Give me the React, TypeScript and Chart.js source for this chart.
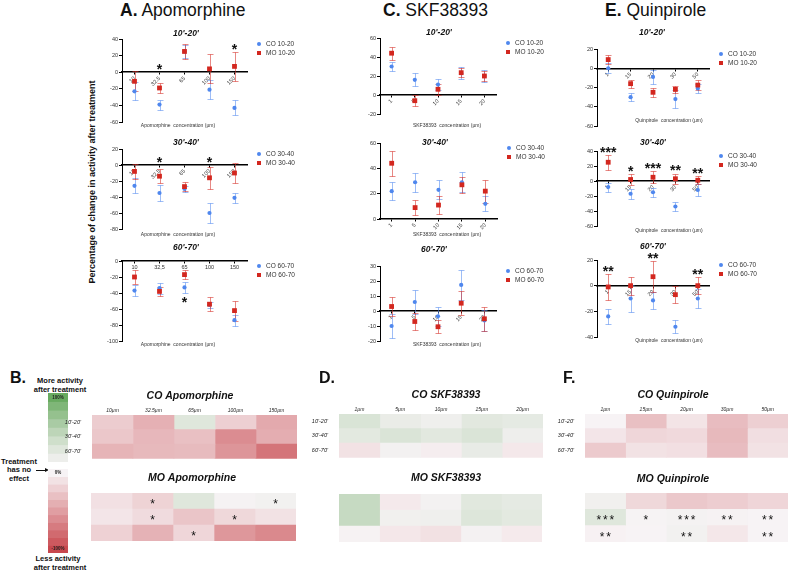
import React, { useEffect, useRef } from "react";
import { Chart, registerables } from "chart.js";
Chart.register(...registerables);

const FONT = "'Liberation Sans', Arial, Helvetica, sans-serif";
const BLUE = "#4f87ee";
const BLUE_ERR = "rgba(79,135,238,0.55)";
const RED = "#d3271f";
const RED_ERR = "rgba(211,39,31,0.55)";

// ---------------- DATA ----------------
const apoDoses = ["10", "32.5", "65", "100", "150"];
const apoDoses2 = ["10", "32,5", "65", "100", "150"];
const apoHeatCols = ["10µm", "32.5µm", "65µm", "100µm", "150µm"];
const skfDoses = ["1", "5", "10", "15", "20"];
const skfHeatCols = ["1µm", "5µm", "10µm", "15µm", "20µm"];
const quiDoses = ["1", "15", "20", "30", "50"];
const quiHeatCols = ["1µm", "15µm", "20µm", "30µm", "50µm"];
const timeRows = ["10'-20'", "30'-40'", "60'-70'"];

// Apomorphine
const apoCO1020 = [-23, -39, 25, -21, -43];
const apoCO1020Err = [11, 6, 8, 11.5, 9];
const apoMO1020 = [-11, -19, 25, 4, 7];
const apoMO1020Err = [12, 6.5, 9.5, 17.5, 17.5];
const apoStars1020 = ["", "*", "", "", "*"];

const apoCO3040 = [-26, -35, -30, -60, -41];
const apoCO3040Err = [9.5, 10, 4, 13, 6];
const apoMO3040 = [-8, -14, -27, -16, -10];
const apoMO3040Err = [9, 8.5, 6, 14, 13];
const apoStars3040 = ["", "*", "", "*", ""];

const apoCO6070 = [-37, -34, -33, -55, -74];
const apoCO6070Err = [7, 7, 7, 4, 7];
const apoMO6070 = [-20, -38, -17, -54, -62];
const apoMO6070Err = [8.4, 6, 5.5, 8.4, 12.6];
const apoStars6070 = ["", "", "*", "", ""];

// SKF38393
const skfCO1020 = [30, 16, 11, 23, 20];
const skfCO1020Err = [4.5, 7, 6, 6, 6];
const skfMO1020 = [44, -6, 6, 23.5, 20];
const skfMO1020Err = [7, 6, 6, 4.5, 5.5];

const skfCO3040 = [22, 29, 23, 29, 12];
const skfCO3040Err = [7, 7.5, 7.5, 8, 6];
const skfMO3040 = [44, 9, 11, 27, 22];
const skfMO3040Err = [10, 6, 7, 6.5, 9];

const skfCO6070 = [-10, 6, -3.5, 17.4, -6.3];
const skfCO6070Err = [8, 7.7, 6.3, 10, 7];
const skfMO6070 = [3, -7, -10.5, 5.2, -5.2];
const skfMO6070Err = [6.5, 5.6, 4.3, 8, 8];
const skfStars = ["", "", "", "", ""];

// Quinpirole
const quiCO1020 = [0, -30, -9, -32, -21];
const quiCO1020Err = [5, 4.5, 7.5, 9.5, 5];
const quiMO1020 = [9, -16, -25, -22, -17.5];
const quiMO1020Err = [5, 4, 4.5, 3.5, 5];
const quiStars1020 = ["", "", "", "", ""];

const quiCO3040 = [-8, -17, -15, -34, -12];
const quiCO3040Err = [6, 6.5, 6, 6, 7.5];
const quiMO3040 = [25, 2, 5, 3, 1];
const quiMO3040Err = [10, 7, 8, 7, 5.5];
const quiStars3040 = ["***", "*", "***", "**", "**"];

const quiCO6070 = [-24, -10, -11.5, -32, -10];
const quiCO6070Err = [5.5, 10.5, 6.5, 5, 7.5];
const quiMO6070 = [-1, 0, 7, -7, 0];
const quiMO6070Err = [10, 7, 12, 6.5, 6.5];
const quiStars6070 = ["**", "", "**", "", "**"];

// colour-bar steps (percent change)
const greenSteps = [100, 87.5, 75, 62.5, 50, 37.5, 25, 12.5];
const redSteps = [0, -10, -20, -30, -40, -50, -60, -70, -80, -90, -100];

// ---------------- HELPERS ----------------
function heatColor(v: number): string {
  const base = [247, 243, 245];
  const green = [104, 170, 96];
  const red = [200, 72, 78];
  let t: number;
  let end: number[];
  if (v >= 0) {
    t = Math.pow(Math.min(v / 100, 1), 1.3);
    end = green;
  } else {
    t = Math.min(-v / 100, 1);
    end = red;
  }
  const c = base.map((b, i) => Math.round(b + (end[i] - b) * t));
  return `rgb(${c[0]},${c[1]},${c[2]})`;
}

function drawStars(ctx: CanvasRenderingContext2D, str: string, x: number, yc: number, size: number, spacing: number, bold: boolean) {
  ctx.font = `${bold ? "bold " : ""}${size}px ${FONT}`;
  ctx.textAlign = "center";
  ctx.textBaseline = "alphabetic";
  const n = str.length;
  for (let k = 0; k < n; k++) {
    const sx = x + (k - (n - 1) / 2) * spacing;
    ctx.fillText("*", sx, yc + 0.57 * size);
  }
}

function ChartBox({ x, y, w, h, make }: { x: number; y: number; w: number; h: number; make: () => any }) {
  const ref = useRef<HTMLCanvasElement>(null);
  useEffect(() => {
    const c = new Chart(ref.current as HTMLCanvasElement, make());
    return () => c.destroy();
  }, []);
  return (
    <canvas
      ref={ref}
      width={w}
      height={h}
      style={{ position: "absolute", left: x, top: y, width: w, height: h }}
    />
  );
}

const errorBars = {
  id: "errorBars",
  beforeDatasetsDraw(chart: any) {
    const ctx = chart.ctx;
    const ys = chart.scales.y;
    chart.data.datasets.forEach((ds: any, i: number) => {
      if (!ds.errors) return;
      const meta = chart.getDatasetMeta(i);
      ctx.save();
      ctx.strokeStyle = ds.errColor;
      ctx.lineWidth = 1;
      meta.data.forEach((pt: any, j: number) => {
        const v = ds.data[j];
        const e = ds.errors[j];
        const x = Math.round(pt.x) + 0.5;
        const y1 = Math.round(ys.getPixelForValue(v + e)) + 0.5;
        const y2 = Math.round(ys.getPixelForValue(v - e)) + 0.5;
        ctx.beginPath();
        ctx.moveTo(x, y1);
        ctx.lineTo(x, y2);
        ctx.moveTo(x - 3, y1);
        ctx.lineTo(x + 3, y1);
        ctx.moveTo(x - 3, y2);
        ctx.lineTo(x + 3, y2);
        ctx.stroke();
      });
      ctx.restore();
    });
  },
};

type ScatterSpec = {
  area: number[];
  yMin: number;
  yMax: number;
  step: number;
  labels: string[];
  rotate: boolean;
  co: number[];
  coErr: number[];
  mo: number[];
  moErr: number[];
  coLabel: string;
  moLabel: string;
  title: string;
  titlePos: number[];
  axisTitle: string;
  axisTitlePos: number[];
  stars: string[];
  starsBelow?: boolean;
};

const YW = 30;
const PT = 40;
const PR = 95;
const PB = 30;

function Scatter({ s }: { s: ScatterSpec }) {
  const [l, t, r, b] = s.area;
  const cx = l - YW;
  const cy = t - PT;
  const w = r - cx + PR;
  const h = b - cy + PB;
  const overlay = {
    id: "overlay",
    afterDatasetsDraw(chart: any) {
      const ctx = chart.ctx as CanvasRenderingContext2D;
      const { right, top } = chart.chartArea;
      ctx.save();
      ctx.fillStyle = "#111";
      ctx.textAlign = "center";
      ctx.textBaseline = "middle";
      ctx.font = `italic bold 8.5px ${FONT}`;
      ctx.fillText(s.title, s.titlePos[0] - cx, s.titlePos[1] - cy);
      ctx.font = `5px ${FONT}`;
      ctx.fillStyle = "#333";
      ctx.fillText(s.axisTitle, s.axisTitlePos[0] - cx, s.axisTitlePos[1] - cy);
      const items: [string, string, string][] = [
        [s.coLabel, BLUE, "circle"],
        [s.moLabel, RED, "rect"],
      ];
      items.forEach(([lab, col, st], i) => {
        const mx = right + 12;
        const my = top + 5 + i * 9;
        ctx.fillStyle = col;
        if (st === "circle") {
          ctx.beginPath();
          ctx.arc(mx, my, 2, 0, Math.PI * 2);
          ctx.fill();
        } else {
          ctx.fillRect(mx - 2, my - 2, 4, 4);
        }
        ctx.fillStyle = "#333";
        ctx.textAlign = "left";
        ctx.textBaseline = "middle";
        ctx.font = `6.5px ${FONT}`;
        ctx.fillText(lab, mx + 7, my);
      });
      const ys = chart.scales.y;
      const meta = chart.getDatasetMeta(0);
      ctx.fillStyle = "#111";
      s.stars.forEach((st, j) => {
        if (!st) return;
        const x = meta.data[j].x;
        let yc: number;
        if (s.starsBelow) {
          const lo = Math.min(s.co[j] - s.coErr[j], s.mo[j] - s.moErr[j]);
          yc = ys.getPixelForValue(lo) + 6;
        } else {
          const hi = Math.max(s.co[j] + s.coErr[j], s.mo[j] + s.moErr[j], 0);
          yc = ys.getPixelForValue(hi) - 6;
        }
        drawStars(ctx, st, x, yc, 14, 5.5, true);
      });
      ctx.restore();
    },
  };
  const make = () => ({
    type: "line",
    data: {
      labels: s.labels,
      datasets: [
        {
          label: s.coLabel,
          data: s.co,
          errors: s.coErr,
          errColor: BLUE_ERR,
          showLine: false,
          pointStyle: "circle",
          pointRadius: 2.1,
          backgroundColor: BLUE,
          borderColor: BLUE,
          borderWidth: 0,
          order: 1,
        },
        {
          label: s.moLabel,
          data: s.mo,
          errors: s.moErr,
          errColor: RED_ERR,
          showLine: false,
          pointStyle: "rect",
          pointRadius: 3.4,
          backgroundColor: RED,
          borderColor: RED,
          borderWidth: 0,
          order: 0,
        },
      ],
    },
    options: {
      responsive: false,
      animation: false,
      events: [],
      layout: { padding: { top: PT, right: PR, bottom: PB, left: 0 } },
      plugins: { legend: { display: false }, tooltip: { enabled: false }, title: { display: false } },
      scales: {
        x: {
          type: "category",
          position: { y: 0 },
          offset: true,
          grid: { display: true, drawOnChartArea: false, drawTicks: true, tickLength: 2, color: "#000" },
          border: { display: true, color: "#000", width: 1.5 },
          ticks: {
            autoSkip: false,
            minRotation: s.rotate ? 45 : 0,
            maxRotation: s.rotate ? 45 : 0,
            padding: 1,
            color: "#333",
            font: { family: FONT, size: 5.5 },
          },
        },
        y: {
          min: s.yMin,
          max: s.yMax,
          grid: { display: true, drawOnChartArea: false, drawTicks: true, tickLength: 3, color: "#000" },
          border: { display: true, color: "#000", width: 1 },
          ticks: { stepSize: s.step, padding: 1, color: "#333", font: { family: FONT, size: 5.5 } },
          afterFit: (sc: any) => {
            sc.width = YW;
          },
        },
      },
    },
    plugins: [errorBars, overlay],
  });
  return <ChartBox x={cx} y={cy} w={w} h={h} make={make} />;
}

type HeatSpec = {
  area: number[];
  values: number[][];
  cols: string[];
  showLabels: boolean;
  title: string;
  titlePos: number[];
  stars?: string[][];
};

const HY = 45;
const HPT = 35;

function Heat({ s }: { s: HeatSpec }) {
  const [l, t, r, b] = s.area;
  const cx = l - HY;
  const cy = t - HPT;
  const w = r - cx;
  const h = b - cy + 2;
  const overlay = {
    id: "heatOverlay",
    afterDatasetsDraw(chart: any) {
      const ctx = chart.ctx as CanvasRenderingContext2D;
      ctx.save();
      ctx.fillStyle = "#111";
      ctx.textAlign = "center";
      ctx.textBaseline = "middle";
      ctx.font = `italic bold 10.5px ${FONT}`;
      ctx.fillText(s.title, s.titlePos[0] - cx, s.titlePos[1] - cy);
      if (s.showLabels) {
        ctx.font = `italic 5px ${FONT}`;
        ctx.fillStyle = "#222";
        s.cols.forEach((c, ci) => {
          const el = chart.getDatasetMeta(ci).data[0];
          ctx.fillText(c, (el.x + el.base) / 2, chart.chartArea.top - 4);
        });
      }
      if (s.stars) {
        ctx.fillStyle = "#111";
        s.stars.forEach((row, ri) => {
          row.forEach((st, ci) => {
            if (!st) return;
            const el = chart.getDatasetMeta(ci).data[ri];
            const x = (el.x + el.base) / 2;
            drawStars(ctx, st, x, el.y, 12, 6.5, false);
          });
        });
      }
      ctx.restore();
    },
  };
  const make = () => ({
    type: "bar",
    data: {
      labels: timeRows,
      datasets: s.cols.map((c, j) => ({
        label: c,
        data: s.values.map(() => 1),
        backgroundColor: s.values.map((row) => heatColor(row[j])),
        borderWidth: 0,
        barPercentage: 1,
        categoryPercentage: 1,
      })),
    },
    options: {
      indexAxis: "y",
      responsive: false,
      animation: false,
      events: [],
      layout: { padding: { top: HPT, right: 0, bottom: 2, left: 0 } },
      plugins: { legend: { display: false }, tooltip: { enabled: false }, title: { display: false } },
      scales: {
        x: { type: "linear", stacked: true, min: 0, max: s.cols.length, display: false },
        y: {
          type: "category",
          stacked: true,
          offset: true,
          grid: { display: false },
          border: { display: false },
          ticks: {
            display: s.showLabels,
            padding: 3,
            color: "#222",
            font: { family: FONT, size: 5.5, style: "italic" },
          },
          afterFit: (sc: any) => {
            sc.width = HY;
          },
        },
      },
    },
    plugins: [overlay],
  });
  return <ChartBox x={cx} y={cy} w={w} h={h} make={make} />;
}

function ColorBar({ area, steps, topText, bottomText }: { area: number[]; steps: number[]; topText: string; bottomText?: string }) {
  const [l, t, r, b] = area;
  const overlay = {
    id: "barText",
    afterDatasetsDraw(chart: any) {
      const ctx = chart.ctx as CanvasRenderingContext2D;
      ctx.save();
      ctx.fillStyle = "#222";
      ctx.textAlign = "center";
      ctx.textBaseline = "middle";
      ctx.font = `bold 4.5px ${FONT}`;
      const n = chart.data.datasets.length;
      const first = chart.getDatasetMeta(0).data[0];
      ctx.fillText(topText, first.x, (first.y + first.base) / 2);
      if (bottomText) {
        const last = chart.getDatasetMeta(n - 1).data[0];
        ctx.fillText(bottomText, last.x, (last.y + last.base) / 2);
      }
      ctx.restore();
    },
  };
  const make = () => ({
    type: "bar",
    data: {
      labels: [""],
      datasets: steps.map((v) => ({
        data: [1],
        backgroundColor: heatColor(v),
        borderWidth: 0,
        barPercentage: 1,
        categoryPercentage: 1,
      })),
    },
    options: {
      responsive: false,
      animation: false,
      events: [],
      layout: { padding: 0 },
      plugins: { legend: { display: false }, tooltip: { enabled: false } },
      scales: {
        x: { stacked: true, display: false },
        y: { stacked: true, display: false, min: 0, max: steps.length, reverse: true },
      },
    },
    plugins: [overlay],
  });
  return <ChartBox x={l} y={t} w={r - l} h={b - t} make={make} />;
}

function Txt({ x, y, size, bold, italic, align = "center", children }: any) {
  return (
    <div
      style={{
        position: "absolute",
        left: x,
        top: y,
        transform: align === "center" ? "translate(-50%,-50%)" : "translate(0,-50%)",
        fontSize: size,
        fontWeight: bold ? 700 : 400,
        fontStyle: italic ? "italic" : "normal",
        lineHeight: 1,
        whiteSpace: "nowrap",
        color: "#111",
      }}
    >
      {children}
    </div>
  );
}

const scatters: ScatterSpec[] = [
  {
    area: [122, 39, 247, 122], yMin: -60, yMax: 40, step: 20, labels: apoDoses, rotate: true,
    co: apoCO1020, coErr: apoCO1020Err, mo: apoMO1020, moErr: apoMO1020Err,
    coLabel: "CO 10-20", moLabel: "MO 10-20", title: "10'-20'", titlePos: [186, 34],
    axisTitle: "Apomorphine  concentration (µm)", axisTitlePos: [178, 126], stars: apoStars1020,
  },
  {
    area: [122, 149, 247, 229], yMin: -80, yMax: 20, step: 20, labels: apoDoses, rotate: true,
    co: apoCO3040, coErr: apoCO3040Err, mo: apoMO3040, moErr: apoMO3040Err,
    coLabel: "CO 30-40", moLabel: "MO 30-40", title: "30'-40'", titlePos: [186, 143],
    axisTitle: "Apomorphine  concentration (µm)", axisTitlePos: [178, 235], stars: apoStars3040,
  },
  {
    area: [122, 261, 247, 341], yMin: -100, yMax: 0, step: 20, labels: apoDoses2, rotate: false,
    co: apoCO6070, coErr: apoCO6070Err, mo: apoMO6070, moErr: apoMO6070Err,
    coLabel: "CO 60-70", moLabel: "MO 60-70", title: "60'-70'", titlePos: [186, 248],
    axisTitle: "Apomorphine  concentration (µm)", axisTitlePos: [178, 345], stars: apoStars6070, starsBelow: true,
  },
  {
    area: [380, 38, 496, 114], yMin: -20, yMax: 60, step: 20, labels: skfDoses, rotate: true,
    co: skfCO1020, coErr: skfCO1020Err, mo: skfMO1020, moErr: skfMO1020Err,
    coLabel: "CO 10-20", moLabel: "MO 10-20", title: "10'-20'", titlePos: [439, 33],
    axisTitle: "SKF38393  concentration (µm)", axisTitlePos: [447, 126], stars: skfStars,
  },
  {
    area: [380, 143, 497, 219], yMin: 0, yMax: 60, step: 20, labels: skfDoses, rotate: true,
    co: skfCO3040, coErr: skfCO3040Err, mo: skfMO3040, moErr: skfMO3040Err,
    coLabel: "CO 30-40", moLabel: "MO 30-40", title: "30'-40'", titlePos: [435, 143],
    axisTitle: "SKF38393  concentration (µm)", axisTitlePos: [447, 235], stars: skfStars,
  },
  {
    area: [380, 266, 496, 341], yMin: -20, yMax: 30, step: 10, labels: skfDoses, rotate: true,
    co: skfCO6070, coErr: skfCO6070Err, mo: skfMO6070, moErr: skfMO6070Err,
    coLabel: "CO 60-70", moLabel: "MO 60-70", title: "60'-70'", titlePos: [434, 250],
    axisTitle: "SKF38393  concentration (µm)", axisTitlePos: [447, 345], stars: skfStars,
  },
  {
    area: [597, 49, 709, 126], yMin: -60, yMax: 20, step: 20, labels: quiDoses, rotate: true,
    co: quiCO1020, coErr: quiCO1020Err, mo: quiMO1020, moErr: quiMO1020Err,
    coLabel: "CO 10-20", moLabel: "MO 10-20", title: "10'-20'", titlePos: [652, 33],
    axisTitle: "Quinpirole  concentration (µm)", axisTitlePos: [669, 121], stars: quiStars1020,
  },
  {
    area: [597, 151, 709, 226], yMin: -60, yMax: 40, step: 20, labels: quiDoses, rotate: true,
    co: quiCO3040, coErr: quiCO3040Err, mo: quiMO3040, moErr: quiMO3040Err,
    coLabel: "CO 30-40", moLabel: "MO 30-40", title: "30'-40'", titlePos: [653, 143],
    axisTitle: "Quinpirole  concentration (µm)", axisTitlePos: [669, 231], stars: quiStars3040,
  },
  {
    area: [597, 260, 709, 337], yMin: -40, yMax: 20, step: 20, labels: quiDoses, rotate: true,
    co: quiCO6070, coErr: quiCO6070Err, mo: quiMO6070, moErr: quiMO6070Err,
    coLabel: "CO 60-70", moLabel: "MO 60-70", title: "60'-70'", titlePos: [653, 247],
    axisTitle: "Quinpirole  concentration (µm)", axisTitlePos: [669, 341], stars: quiStars6070,
  },
];

const heats: HeatSpec[] = [
  { area: [92, 415, 297, 463], values: [apoCO1020, apoCO3040, apoCO6070], cols: apoHeatCols, showLabels: true, title: "CO Apomorphine", titlePos: [190, 396] },
  { area: [91, 493, 296, 541], values: [apoMO1020, apoMO3040, apoMO6070], cols: apoHeatCols, showLabels: false, title: "MO Apomorphine", titlePos: [192, 478], stars: [apoStars1020, apoStars3040, apoStars6070] },
  { area: [339, 414, 543, 462], values: [skfCO1020, skfCO3040, skfCO6070], cols: skfHeatCols, showLabels: true, title: "CO SKF38393", titlePos: [446, 395] },
  { area: [339, 494, 542, 542], values: [skfMO1020, skfMO3040, skfMO6070], cols: skfHeatCols, showLabels: false, title: "MO SKF38393", titlePos: [446, 478] },
  { area: [585, 414, 788, 462], values: [quiCO1020, quiCO3040, quiCO6070], cols: quiHeatCols, showLabels: true, title: "CO Quinpirole", titlePos: [673, 395] },
  { area: [585, 493, 788, 542], values: [quiMO1020, quiMO3040, quiMO6070], cols: quiHeatCols, showLabels: false, title: "MO Quinpirole", titlePos: [673, 479], stars: [quiStars1020, quiStars3040, quiStars6070] },
];

export default function App() {
  return (
    <div
      style={{
        position: "absolute",
        left: 0,
        top: 0,
        width: 789,
        height: 572,
        overflow: "hidden",
        background: "#fff",
        fontFamily: FONT,
      }}
    >
      <Txt x={120} y={11} size={17.5} align="left"><b>A.</b> Apomorphine</Txt>
      <Txt x={383} y={11} size={17.5} align="left"><b>C.</b> SKF38393</Txt>
      <Txt x={605} y={11} size={17.5} align="left"><b>E.</b> Quinpirole</Txt>
      <div
        style={{
          position: "absolute",
          left: 92,
          top: 182,
          transform: "translate(-50%,-50%) rotate(-90deg)",
          fontSize: 9,
          fontWeight: 700,
          whiteSpace: "nowrap",
          lineHeight: 1,
          color: "#111",
        }}
      >
        Percentage of change in activity after treatment
      </div>
      {scatters.map((s, i) => (
        <Scatter key={"s" + i} s={s} />
      ))}

      <Txt x={10} y={378} size={16} bold align="left">B.</Txt>
      <Txt x={319} y={378} size={16} bold align="left">D.</Txt>
      <Txt x={563} y={378} size={16} bold align="left">F.</Txt>

      <Txt x={60} y={381} size={7.5} bold>More activity</Txt>
      <Txt x={60} y={390} size={7.5} bold>after treatment</Txt>
      <Txt x={19} y={462} size={7.5} bold>Treatment</Txt>
      <Txt x={19} y={470} size={7.5} bold>has no</Txt>
      <Txt x={19} y={479} size={7.5} bold>effect</Txt>
      <div style={{ position: "absolute", left: 36, top: 469.5, width: 9, height: 1, background: "#111" }} />
      <div
        style={{
          position: "absolute",
          left: 45,
          top: 467.5,
          width: 0,
          height: 0,
          borderTop: "2.5px solid transparent",
          borderBottom: "2.5px solid transparent",
          borderLeft: "4px solid #111",
        }}
      />
      <Txt x={58} y={559} size={7.5} bold>Less activity</Txt>
      <Txt x={60} y={568} size={7.5} bold>after treatment</Txt>

      <ColorBar area={[48, 393, 68, 462]} steps={greenSteps} topText="100%" />
      <ColorBar area={[48, 469, 68, 553]} steps={redSteps} topText="0%" bottomText="-100%" />

      {heats.map((h, i) => (
        <Heat key={"h" + i} s={h} />
      ))}
    </div>
  );
}
